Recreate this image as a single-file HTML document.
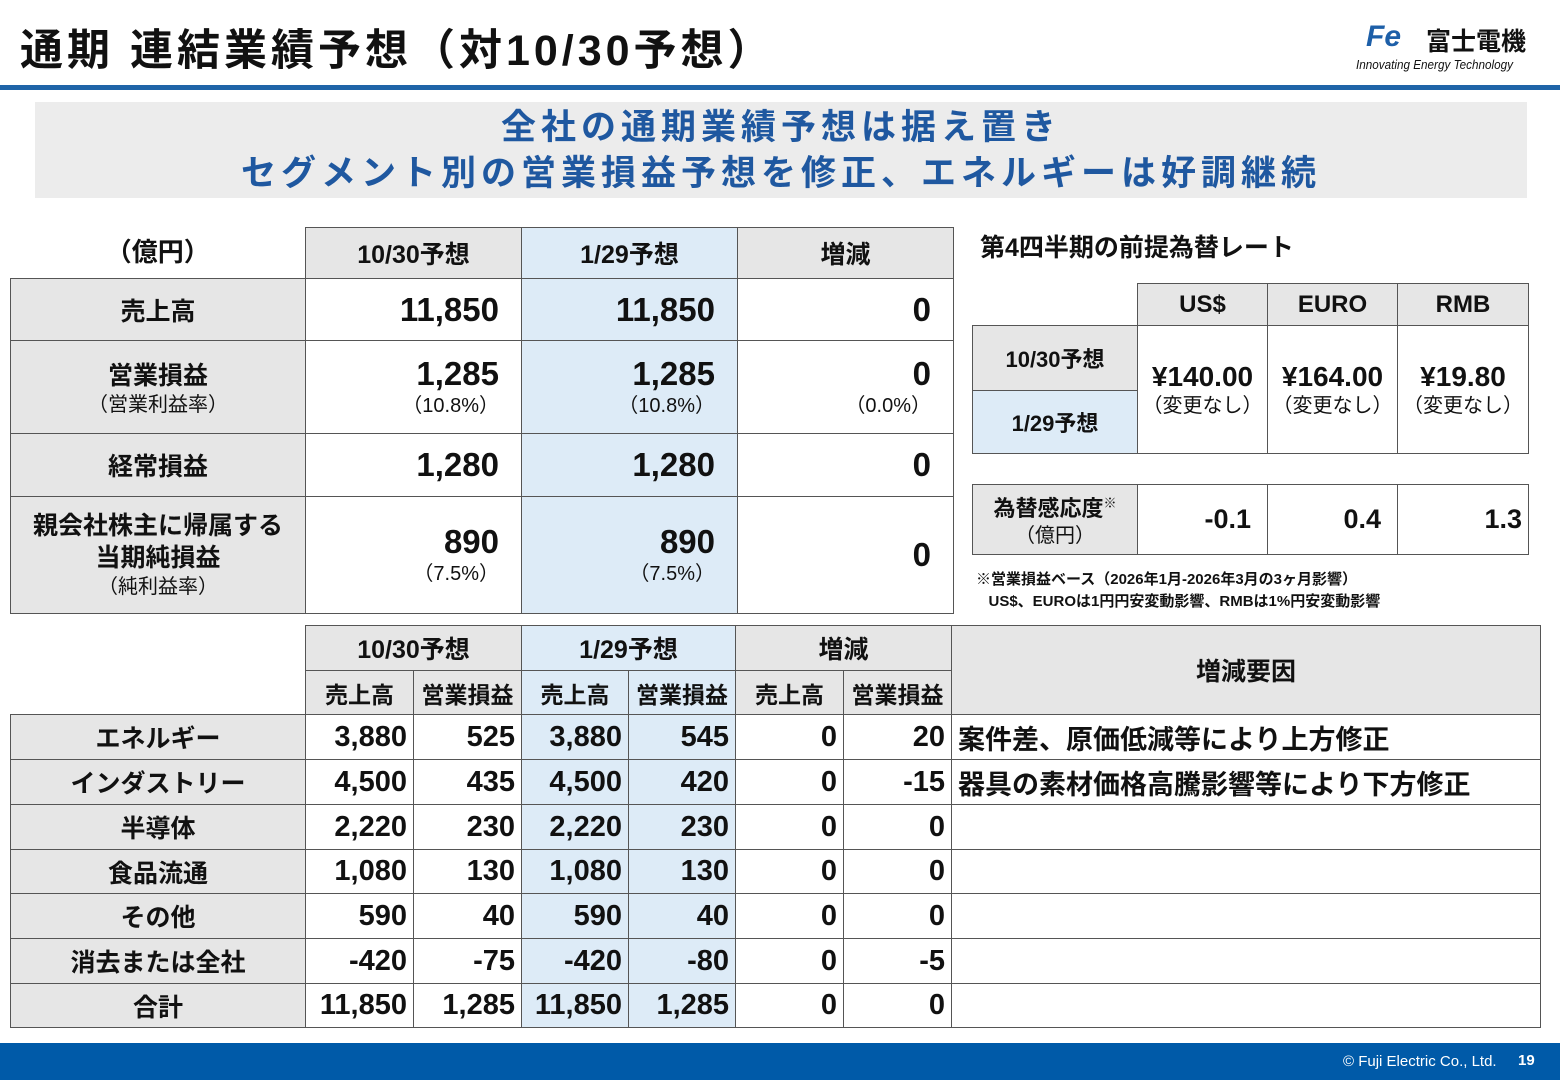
<!DOCTYPE html>
<html><head><meta charset="utf-8"><style>
*{margin:0;padding:0;box-sizing:border-box}
body{width:1560px;height:1080px;position:relative;background:#fff;font-family:"Liberation Sans","Noto Sans CJK JP",sans-serif;color:#111;overflow:hidden}
.a{position:absolute}
table{border-collapse:collapse;table-layout:fixed;position:absolute}
td{border:1.5px solid #555;font-weight:bold;padding:0}
.g{background:#e6e6e6}.b{background:#ddebf7}
.c{text-align:center}.r{text-align:right;padding-right:22px}
.n{font-size:33px}.s{font-size:20px;font-weight:normal;display:block;line-height:26px}
.l{font-size:25px;text-align:center}
.bt td{font-size:29px;text-align:right;padding-right:6px}
.bt td.l{font-size:25px;text-align:center;padding:0}
.bt td.h{font-size:25px;text-align:center;padding:0}
.bt td.t{font-size:27px;text-align:left;padding-left:6px}
</style></head><body>
<div class="a" style="left:20px;top:16px;font-size:43px;font-weight:bold;letter-spacing:4px">通期 連結業績予想（対10/30予想）</div>
<div class="a" style="left:1366px;top:20px;font-size:30px;font-weight:900;font-style:italic;color:#1d5fa8">Fe</div>
<div class="a" style="left:1426px;top:22px;font-size:25px;font-weight:bold">富士電機</div>
<div class="a" style="left:1356px;top:57px;font-size:13px;font-style:italic;transform:scaleX(0.9);transform-origin:left">Innovating Energy Technology</div>
<div class="a" style="left:0;top:85px;width:1560px;height:5px;background:#1f64a8"></div>
<div class="a" style="left:35px;top:102px;width:1492px;height:96px;background:#ececec;color:#1f58a0;font-size:35px;font-weight:bold;text-align:center;line-height:46px;padding-top:3px;letter-spacing:5px">全社の通期業績予想は据え置き<br>セグメント別の営業損益予想を修正、エネルギーは好調継続</div>

<table style="left:10px;top:227px;width:943px">
<colgroup><col style="width:295px"><col style="width:216px"><col style="width:216px"><col style="width:216px"></colgroup>
<tr style="height:51px"><td style="border:none;font-size:26px;text-align:center;vertical-align:top;padding-top:4px">（億円）</td><td class="g c" style="font-size:25px">10/30予想</td><td class="b c" style="font-size:25px">1/29予想</td><td class="g c" style="font-size:25px">増減</td></tr>
<tr style="height:62px"><td class="g l">売上高</td><td class="r n">11,850</td><td class="b r n">11,850</td><td class="r n">0</td></tr>
<tr style="height:93px"><td class="g l">営業損益<span class="s">（営業利益率）</span></td><td class="r n">1,285<span class="s">（10.8%）</span></td><td class="b r n">1,285<span class="s">（10.8%）</span></td><td class="r n">0<span class="s">（0.0%）</span></td></tr>
<tr style="height:63px"><td class="g l">経常損益</td><td class="r n">1,280</td><td class="b r n">1,280</td><td class="r n">0</td></tr>
<tr style="height:117px"><td class="g l" style="line-height:32px">親会社株主に帰属する<br>当期純損益<span class="s">（純利益率）</span></td><td class="r n">890<span class="s">（7.5%）</span></td><td class="b r n">890<span class="s">（7.5%）</span></td><td class="r n">0</td></tr>
</table>

<div class="a" style="left:980px;top:228px;font-size:25px;font-weight:bold">第4四半期の前提為替レート</div>
<table style="left:972px;top:283px;width:556px">
<colgroup><col style="width:165px"><col style="width:130px"><col style="width:130px"><col style="width:131px"></colgroup>
<tr style="height:42px"><td style="border:none;border-bottom:1.5px solid #555"></td><td class="g c" style="font-size:24px">US$</td><td class="g c" style="font-size:24px">EURO</td><td class="g c" style="font-size:24px">RMB</td></tr>
<tr style="height:65px"><td class="g c" style="font-size:22px">10/30予想</td><td rowspan="2" class="c" style="font-size:28px">¥140.00<span class="s">（変更なし）</span></td><td rowspan="2" class="c" style="font-size:28px">¥164.00<span class="s">（変更なし）</span></td><td rowspan="2" class="c" style="font-size:28px">¥19.80<span class="s">（変更なし）</span></td></tr>
<tr style="height:63px"><td class="b c" style="font-size:22px">1/29予想</td></tr>
</table>
<table style="left:972px;top:484px;width:556px">
<colgroup><col style="width:165px"><col style="width:130px"><col style="width:130px"><col style="width:131px"></colgroup>
<tr style="height:70px"><td class="g c" style="font-size:22px">為替感応度<sup style="font-size:13px">※</sup><span class="s">（億円）</span></td><td class="r" style="font-size:27px;padding-right:16px">-0.1</td><td class="r" style="font-size:27px;padding-right:16px">0.4</td><td class="r" style="font-size:27px;padding-right:6px">1.3</td></tr>
</table>
<div class="a" style="left:976px;top:569px;font-size:15px;font-weight:bold;line-height:22px">※営業損益ベース（2026年1月-2026年3月の3ヶ月影響）<br>&nbsp;&nbsp;&nbsp;US$、EUROは1円円安変動影響、RMBは1%円安変動影響</div>

<table class="bt" style="left:10px;top:625px;width:1530px">
<colgroup><col style="width:295px"><col style="width:108px"><col style="width:108px"><col style="width:107px"><col style="width:107px"><col style="width:108px"><col style="width:108px"><col style="width:589px"></colgroup>
<tr style="height:45px"><td rowspan="2" style="border:none;border-bottom:1.5px solid #555"></td><td colspan="2" class="g h">10/30予想</td><td colspan="2" class="b h">1/29予想</td><td colspan="2" class="g h">増減</td><td rowspan="2" class="g h">増減要因</td></tr>
<tr style="height:44px"><td class="g h" style="font-size:23px">売上高</td><td class="g h" style="font-size:23px">営業損益</td><td class="b h" style="font-size:23px">売上高</td><td class="b h" style="font-size:23px">営業損益</td><td class="g h" style="font-size:23px">売上高</td><td class="g h" style="font-size:23px">営業損益</td></tr>
<tr style="height:45px"><td class="g l">エネルギー</td><td>3,880</td><td>525</td><td class="b">3,880</td><td class="b">545</td><td>0</td><td>20</td><td class="t">案件差、原価低減等により上方修正</td></tr>
<tr style="height:45px"><td class="g l">インダストリー</td><td>4,500</td><td>435</td><td class="b">4,500</td><td class="b">420</td><td>0</td><td>-15</td><td class="t">器具の素材価格高騰影響等により下方修正</td></tr>
<tr style="height:45px"><td class="g l">半導体</td><td>2,220</td><td>230</td><td class="b">2,220</td><td class="b">230</td><td>0</td><td>0</td><td></td></tr>
<tr style="height:44px"><td class="g l">食品流通</td><td>1,080</td><td>130</td><td class="b">1,080</td><td class="b">130</td><td>0</td><td>0</td><td></td></tr>
<tr style="height:45px"><td class="g l">その他</td><td>590</td><td>40</td><td class="b">590</td><td class="b">40</td><td>0</td><td>0</td><td></td></tr>
<tr style="height:45px"><td class="g l">消去または全社</td><td>-420</td><td>-75</td><td class="b">-420</td><td class="b">-80</td><td>0</td><td>-5</td><td></td></tr>
<tr style="height:44px"><td class="g l">合計</td><td>11,850</td><td>1,285</td><td class="b">11,850</td><td class="b">1,285</td><td>0</td><td>0</td><td></td></tr>
</table>

<div class="a" style="left:0;top:1043px;width:1560px;height:37px;background:#005aa8"></div>
<div class="a" style="left:1343px;top:1053px;font-size:15px;color:#fff">© Fuji Electric Co., Ltd.</div>
<div class="a" style="left:1518px;top:1052px;font-size:15px;color:#fff;font-weight:bold">19</div>
</body></html>
